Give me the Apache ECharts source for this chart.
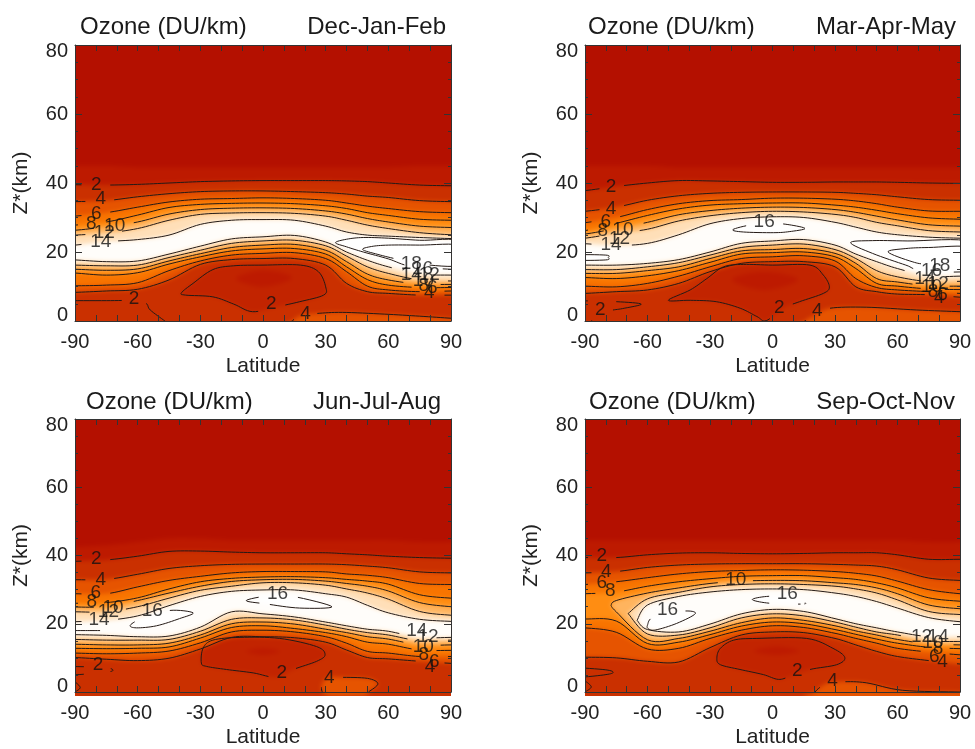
<!DOCTYPE html>
<html><head><meta charset="utf-8">
<style>html,body{margin:0;padding:0;background:#fff}#c{width:975px;height:749px}</style>
<script src="https://cdn.jsdelivr.net/npm/echarts@6/dist/echarts.min.js"></script>
</head><body><div id="c"></div>
<script>
// ---- shared axes ----
const lats=[-90,-75,-60,-45,-30,-15,0,15,30,40,50,60,75,90];
const lensLevels=[4,6,8,10,12,14];
const latTicks=[-90,90,30], zTicks=[0,80,20];
const colourLevels=[0,0.5,1,1.5,2,3,4,6,8,10,12,14,16];
const colourValues=['#b41000','#b61200','#bd1a00','#c22400','#ca3000','#d84000','#e65400','#f87400','#ff8d12','#ffb45e','#ffdfb8','#fffdfa','#ffffff'];
const lineColour='#241a16';

// ---- Dec-Jan-Feb ----
const djfFade=[45,45,44.6,44.5,44.5,44.5,44.5,44.5,44.5,44.5,44.5,44.6,45,45];
const djfUp2=[39.5,39.4,39.6,40,40.4,40.6,40.7,40.7,40.7,40.6,40.4,40,39.4,39.2];
const djfUpper=[
[34.6,34.9,36,36.9,37.5,37.7,37.7,37.5,37.2,36.8,36.2,35.8,34.9,34.6],
[30.4,31.4,33,34.5,35.3,35.5,35.7,35.5,35,34.2,33.3,32.6,31.7,31.4],
[27.8,28.7,30.7,32.9,33.8,34.1,34.2,34,33.4,32.6,31.4,30.6,29.5,29.2],
[26.3,27.3,28.7,31,32.3,32.7,32.8,32.6,31.9,31,29.7,28.7,27.5,27.1],
[24.9,25.5,26.8,29.2,30.9,31.3,31.4,31.2,30.4,29.2,27.8,26.8,25.6,25],
[22,23,23.6,24.9,28,29.2,29.4,29.2,27.5,25.8,24.9,24.6,24.2,23.9]];
const djfLower=[
[8.3,8.7,9.2,11.9,16.4,17.8,18.1,18.1,16.2,10.9,8.5,8,7.5,7.5],
[10.2,10.4,11.1,14.6,17.4,19.1,19.6,19.8,18.1,14.3,10.1,9,8.5,8.7],
[13.9,13.3,14,16.5,18.6,20.3,20.9,21,19.4,15.7,12,10.4,9.7,9.7],
[15,14.7,15.1,17.4,19.5,21.3,22,22.2,20.5,17.2,13.6,11.9,10.7,10.6],
[16.2,16,16.2,18.4,20.5,22.5,23.2,23.4,21.8,18.8,15.7,13.8,11.9,11.6],
[17.7,17.2,17.4,19.4,21.7,23.8,24.4,24.8,22.9,20,17.6,15.7,13.6,13.3]];
const djfHole=[[-39,8.2],[-33.5,10.9],[-24,14.9],[-14,16],[0,16.2],[18,16.2],[26.5,14.3],[30,9.9],[29,7.5],[17.6,5.6],[6.5,4.1],[-5,2.7],[-14,4.9],[-24,7],[-37,7.5]];
const djfCore=[[-13,12.3],[0,14.7],[14,12.6],[0,9.9]];
const djfSurface=[[13,-2],[14,0],[18.5,1.7],[26,2.2],[38,2.5],[58,2],[75,1.4],[90,0.8],[96,0.6],[96,-3]];
const djfOpen2=[[-95,5.9],[-75,5.9],[-62,5.9],[-56,5.1],[-54,3.2],[-47,0],[-45,-1]];
const djfLoop16=[[34.7,22.7],[40,23.7],[48,24.2],[60,24],[75,23.4],[95,23],[95,15],[90,15],[71,15.8],[60,18],[48,20],[40,21.5]];
const djfLoop18=[[47.7,20.7],[52,21.6],[60,22],[75,22],[95,21.8],[95,16.2],[75,16.5],[65,17.8],[55,19.3]];
const djfLabels=[[-79.8,39.5,2],[-77.7,35.3,4],[-79.8,31.1,6],[-82.2,28.2,8],[-71,27.5,10],[-76,25.6,12],[-77.7,23.1,14],[-61.7,6.3,2],[4,5.1,2],[20.4,2.2,4],[71,16.7,18],[76.4,15.2,16],[71,13.3,14],[79.6,13.3,12],[76.8,11.6,10],[77,10.1,8],[81,9.7,6],[79.6,8.2,4]];

// ---- Mar-Apr-May ----
const mamFade=[45,45,45,44.5,44.5,44.5,44.5,44.5,44.5,44.5,44.5,44.5,44.5,44.5];
const mamUp2=[37.8,39,40,40.7,40.6,40.4,40.2,40.2,40.3,40.3,40.3,40.2,40,39.9];
const mamUpper=[
[31.8,33,35,36.3,37,37.3,37.4,37.4,37.3,37,36.6,36,35.2,35],
[28.5,30,32.3,34,34.9,35.2,35.6,35.6,35.3,34.8,34,33,31.9,31.8],
[26.2,28.3,30.6,32.5,33.6,34,34.2,34.2,33.6,33,32.1,31.1,29.9,29.5],
[25.2,26.8,28.6,30.8,32,32.7,33,32.9,32.3,31.5,30.4,29.3,27.9,27.5],
[24,25.4,26.6,29,30.5,31.4,31.8,31.6,30.9,30,28.6,27.6,26.2,25.8],
[22.4,21.9,22.5,25,28.2,29.7,30.2,30,28.6,27.2,25.8,25,24.3,24]];
const mamLower=[
[8,8.5,9,10.9,14.3,16.7,17.2,17.2,15.7,9.9,8.5,7.8,7.6,6.9],
[10.1,9.9,10.9,13,15.7,18.1,18.6,18.9,17.4,12.3,9.7,9,8.5,8],
[12.6,12.3,13.1,14.6,17,19.4,19.8,20,18.6,15.2,10.9,10.1,9.3,9.1],
[13.8,13.8,14.6,15.7,18.1,20.3,20.7,21,19.6,16.7,12.3,11.3,10.2,10.1],
[14.9,14.9,15.7,16.9,19.1,21.3,22,22.3,20.7,18.1,14.6,12.8,11.4,11.5],
[16.2,16.2,16.7,17.8,20,22.5,23.2,23.6,22,19.4,17.2,15.2,13,13]];
const mamHole=[[-50,6],[-39.5,9],[-31.5,12.3],[-23.5,15.7],[-14,16.4],[0,16.2],[18,16.2],[24.4,13.3],[27.3,9.9],[24.4,8],[13,5.6],[5,3.7],[-3,0.1],[-7.5,1.3],[-15.5,3.7],[-27,5.6],[-39.5,6]];
const mamCore=[[-19.5,12],[-4,14.3],[12.4,12],[-4,9]];
const mamSurface=[[15.6,-2],[15.6,0],[20.4,1.7],[27.6,3.7],[45,4],[69,3.2],[90,2.7],[96,2.6],[96,-3]];
const mamOpen2=[[-95,5.9],[-75,5.6],[-63,4.9],[-72,3.6],[-78,3],[-84,1.6],[-87,0],[-88,-1]];
const mamLoop16=[[37.5,22.7],[48,23.3],[65,23.2],[95,22.9],[95,14.8],[71,14.9],[64,16.2],[48,19.6]];
const mamLoop18=[[55.5,20],[64,21],[75,21.3],[95,21.3],[95,16],[75,16.4],[67,17.2]];
const mamMid16=[[-19,26.5],[-10,27.9],[0,28.3],[8,27.9],[15.6,26.8],[8,25.9],[0.4,25.6],[-14,25.8]];
const mamLeft16=[[-95,19.1],[-80,19.1],[-78.8,18.4],[-80,17.7],[-95,17.7]];
const mamLabels=[[-77.5,38.8,2],[-77.5,32.4,4],[-80,28.7,6],[-81.5,26.1,8],[-71.8,26.3,10],[-73.4,23.9,12],[-77.5,22,14],[-4,28.9,16],[-82.7,3.2,2],[3.3,3.7,2],[21.5,3,4],[80.3,15.9,18],[76.3,14.7,16],[73.1,12.3,14],[79.5,10.9,12],[76.3,9.9,10],[77,8.5,8],[81.6,7.5,6],[80,6.6,4]];

// ---- Jun-Jul-Aug ----
const jjaFade=[42.5,43,44,45,45,44.5,44.5,44.5,44.5,44.5,44.5,44.5,44,44];
const jjaUp2=[38.3,38.7,39.8,41.2,41.3,41,40.8,40.8,40.8,40.5,40.2,39.8,39.4,39.2];
const jjaUpper=[
[32.9,33,34.5,36.2,37,37.4,37.5,37.5,37.5,37.3,36.9,36.4,35.2,34.9],
[28.8,28.8,30.8,32.7,33.9,34.9,35.3,35.3,35.2,34.6,34.2,33.5,31.8,31.5],
[26,26.2,27.6,30.2,32.3,33.3,33.7,33.8,33.5,33,32.5,31.6,28.5,27.5],
[24.9,25,26.8,29,31,32.4,32.9,33,32.5,31.8,31,29.6,26.2,25],
[23.5,23.5,25,27.5,29.8,31,32,32,31.3,30.2,29,27.2,23.6,22.5],
[20.6,21,22.3,25.3,28,29.5,29.9,29.9,28.8,27.8,25.4,23.2,21.3,20.7]];
const jjaLower=[
[10.1,9.6,9.2,9.9,12.6,16,16.2,15.9,14.6,12.3,10.1,9.7,9,8.4],
[11.4,11.2,11.4,12,14.4,17.6,18.1,17.6,16.2,14.3,11.9,11.4,10.4,10.4],
[12.8,12.7,12.8,13.2,15.8,18.9,19.4,18.6,17.4,16.2,14.6,14,12.3,12.2],
[14,13.8,13.8,14.3,16.7,20,20.5,19.9,18.4,17.4,16.2,15.5,13.8,13.8],
[15.4,15.2,15.2,15.4,17.8,21.3,21.7,21.1,19.6,18.4,17.4,16.7,15,15.2],
[16.8,16.6,16.2,16.4,19,23.5,22.9,22,20.5,19.4,18.4,17.8,16,16]];
const jjaHole=[[-29.5,8.5],[-28.7,12.8],[-24,15.2],[-11,16],[8,15.7],[25.7,13.3],[29.7,10.9],[25.7,9],[14.5,6.6],[6.5,4.3],[-4.7,5.6],[-17.5,6.6],[-27,7.5]];
const jjaCore=[[-8,11.9],[0,12.8],[8,11.9],[0,10.9]];
const jjaSurface=[[31,-1],[28,1.7],[31,4.2],[37,4.3],[50,4],[55,2.4],[50.5,0],[48,-1]];
const jjaOpen2=[[-95,7.5],[-76,7.2],[-72,6.2],[-80,5.5],[-95,4.8]];
const jjaCorner=[[-90,3],[-87.5,1.3],[-90,0]];
const jjaMid16=[[-8,26.8],[3,28.2],[14.5,28],[33,25],[17.5,24.6],[1.6,25.8]];
const jjaLeft16=[[-63.5,19.6],[-57.4,21.7],[-44.6,23.9],[-33.5,23.2],[-40,21.5],[-51,19.4],[-60.6,18.8]];
const jjaLine16=[[-95,18],[-85,18],[-78,18]];
const jjaLabels=[[-79.8,39,2],[-77.7,33,4],[-80,29.2,6],[-82,26.3,8],[-71.8,24.7,10],[-74,23.4,12],[-78.5,21.3,14],[-53,23.7,16],[7,28.7,16],[-79,8,2],[9,5.6,2],[31.7,4.3,4],[73.6,17.8,14],[79,16.2,12],[76.7,13.3,10],[77,10.9,8],[82,9,6],[80,7.5,4]];

// ---- Sep-Oct-Nov ----
const sonFade=[44.5,44.5,44.5,44.5,44.5,44.5,44.5,44.5,44.5,44.5,44.5,44.5,44,44];
const sonUp2=[39.4,39.4,40.2,40.7,40.8,40.6,40.5,40.6,40.8,40.8,40.8,40.2,38.9,38.9];
const sonUpper=[
[34.9,35.3,36.5,37.2,37.5,37.6,37.6,37.6,37.4,37.2,36.9,35.8,33.4,32.7],
[31.5,32.3,33.5,34.6,35.3,35.6,35.8,35.7,35.3,34.8,34,32.5,30,28.8],
[28.8,29.3,31,32.3,33.2,33.9,34.1,34.1,33.5,33,32,30.5,27.6,26.6],
[null,26.8,29,30.5,31.8,32.5,32.7,32.6,32,31.5,30.5,28.8,25.5,24.4],
[null,null,27.3,29.2,30.8,31.5,31.7,31.5,31,30.2,29,27,23.6,22.7],
[null,null,25.5,28,29.3,30,30.2,30,29,28,26.5,24.6,21.8,20.6]];
const sonLower=[
[10.2,10,9,8.8,13,16.7,17.6,17.4,15.7,13.8,11.9,10.4,9.2,8.2],
[18.8,17.5,12.6,12.8,15.7,18.1,19.4,18.9,17.2,15.7,14.3,12.8,11.7,10.9],
[21.4,20.8,14.2,14.6,16.8,19.3,20.5,20,18.3,16.9,15.5,14.3,13.1,12.7],
[null,23.5,15.3,15.7,17.8,20.3,21.7,21,19.4,17.9,16.7,15.4,14.1,13.8],
[null,null,17,16.7,18.8,21.7,22.9,22.3,20.5,19,17.6,16.7,15,14.8],
[null,null,18.3,17.6,19.9,22.9,24.2,23.6,21.5,20,18.8,17.6,16.2,16.2]];
const sonTips={10:[-77.5,25.4],12:[-69.3,23],14:[-65,21]};
const sonHole=[[-26.7,9.9],[-25,12.8],[-18.6,15.2],[-7.5,15.7],[16.4,15.7],[29,12.8],[34.7,10.1],[30.8,8],[18,6.6],[8.5,4.6],[2.8,3.7],[-4.4,5.1],[-15.6,6.6],[-25,8]];
const sonCore=[[-9,12],[2,13.3],[13,12],[2,10.9]];
const sonSurface=[[20.4,-2],[20.4,0],[26,2.5],[33.8,3],[45,2.7],[62.5,0.5],[90,0],[96,0],[96,-3]];
const sonOpen2=[[-95,7.2],[-80,6.5],[-76.5,5.7],[-81,5],[-95,4.1]];
const sonCorner=[[-90,3.3],[-87,1.5],[-90,0]];
const sonMid16=[[-9.7,27.1],[-2.8,28],[8,28],[16,26],[8.5,25.8],[-2.8,26.1]];
const sonLeft16=[[-60,19.6],[-57,22],[-43,23.7],[-37,23],[-46,20.1],[-56,18.2],[-59.5,18.5]];
const sonLabels=[[-81.9,39.8,2],[-79.8,35.3,4],[-81.9,32.1,6],[-77.9,29.7,8],[-17.6,32.9,10],[-50.4,24.2,16],[7.1,28.7,16],[11.9,6.1,2],[28.8,3.2,4],[71.5,16.2,12],[79.5,16.2,14],[77,14.3,10],[79.5,12.8,8],[77.6,10.4,6],[81.6,8.8,4]];

// ---- panels ----
const ozoneTitle='Ozone (DU/km)';
const seasons=['Dec-Jan-Feb','Mar-Apr-May','Jun-Jul-Aug','Sep-Oct-Nov'];
const layout=[
 {l:75,t:45,w:376,h:276,tl:80,tr:446,ty:14},
 {l:585,t:45,w:375,h:276,tl:588,tr:956,ty:14},
 {l:75,t:419,w:376,h:277,tl:86,tr:441,ty:389},
 {l:585,t:419,w:375,h:277,tl:589,tr:955,ty:389}];

function branch(values,tip){
  const out=[]; if(tip) out.push(tip);
  values.forEach((v,i)=>{ if(v!==null) out.push([lats[i],v]); });
  if(values[0]!==null) out.unshift([-96,values[0]]);
  out.push([96,values[values.length-1]]);
  return out;
}
function buildShapes(fade,up2,upper,lower,extras,tips){
  const s=[];
  s.push({level:0,fill:true,line:false,branches:[[[-100,88],[100,88]],[[-100,-8],[100,-8]]]});
  s.push({level:1,fill:true,line:false,branches:[branch(fade),[[-100,-8],[100,-8]]]});
  s.push({level:2,fill:true,line:true,branches:[branch(up2),[[-100,-8],[100,-8]]]});
  s.push({level:1.5,fill:true,line:true,labelLevel:2,closed:true,branches:[extras.hole]});
  s.push({level:1,fill:true,line:false,closed:true,branches:[extras.core]});
  s.push({level:4,fill:true,line:true,closed:true,branches:[extras.surface]});
  lensLevels.forEach((lv,i)=>{
    const tip=tips&&tips[lv];
    s.push({level:lv,fill:true,line:true,branches:[branch(upper[i],tip),branch(lower[i],tip)]});
  });
  (extras.open||[]).forEach(o=>s.push({level:o.level,fill:false,line:true,branches:[o.pts]}));
  (extras.loops||[]).forEach(o=>s.push({level:o.level,fill:true,line:true,closed:true,branches:[o.pts]}));
  return s;
}
const panelShapes=[
 buildShapes(djfFade,djfUp2,djfUpper,djfLower,{hole:djfHole,core:djfCore,surface:djfSurface,
   open:[{level:2,pts:djfOpen2}],loops:[{level:16,pts:djfLoop16},{level:18,pts:djfLoop18}]}),
 buildShapes(mamFade,mamUp2,mamUpper,mamLower,{hole:mamHole,core:mamCore,surface:mamSurface,
   open:[{level:2,pts:mamOpen2}],loops:[{level:16,pts:mamLoop16},{level:18,pts:mamLoop18},{level:16,pts:mamMid16},{level:16,pts:mamLeft16}]}),
 buildShapes(jjaFade,jjaUp2,jjaUpper,jjaLower,{hole:jjaHole,core:jjaCore,surface:jjaSurface,
   open:[{level:2,pts:jjaOpen2},{level:2,pts:jjaCorner},{level:16,pts:jjaLine16}],loops:[{level:16,pts:jjaMid16},{level:16,pts:jjaLeft16}]}),
 buildShapes(sonFade,sonUp2,sonUpper,sonLower,{hole:sonHole,core:sonCore,surface:sonSurface,
   open:[{level:2,pts:sonOpen2},{level:2,pts:sonCorner}],loops:[{level:16,pts:sonMid16},{level:16,pts:sonLeft16}]},sonTips)];
const panelLabels=[djfLabels,mamLabels,jjaLabels,sonLabels];

function hex(c){return [1,3,5].map(i=>parseInt(c.substr(i,2),16));}
function colourOf(v){
  for(let i=1;i<colourLevels.length;i++){
    if(v<=colourLevels[i]){
      const a=colourLevels[i-1],b=colourLevels[i],t=(v-a)/(b-a);
      const p=hex(colourValues[i-1]),q=hex(colourValues[i]);
      return 'rgb('+p.map((x,k)=>Math.round(x+(q[k]-x)*t)).join(',')+')';
    }
  }
  return colourValues[colourValues.length-1];
}
// Catmull-Rom through pixel positions, used only to draw a curve through the read nodes
function curve(p,closed){
  const n=p.length,out=[];
  if(n<3) return p.slice();
  const at=i=>closed?p[(i+n)%n]:p[Math.max(0,Math.min(n-1,i))];
  const segs=closed?n:n-1;
  for(let i=0;i<segs;i++){
    const a=at(i-1),b=at(i),c=at(i+1),d=at(i+2);
    for(let k=0;k<8;k++){
      const t=k/8,t2=t*t,t3=t2*t;
      out.push([0,1].map(j=>0.5*(2*b[j]+(c[j]-a[j])*t+(2*a[j]-5*b[j]+4*c[j]-d[j])*t2+(3*b[j]-a[j]-3*c[j]+d[j])*t3)));
    }
  }
  out.push(closed?out[0]:p[n-1]);
  return out;
}
function fillItem(pi){
  return function(params,api){
    const s=panelShapes[pi][api.value(2)];
    if(!s.fill) return null;
    const bs=s.branches.map(b=>curve(b.map(q=>api.coord(q)),s.closed));
    const poly=bs.length>1?bs[0].concat(bs[1].slice().reverse()):bs[0];
    return {type:'polygon',shape:{points:poly},style:{fill:colourOf(s.level),stroke:null}};
  };
}
function lineItem(pi){
  return function(params,api){
    const s=panelShapes[pi][api.value(2)];
    if(!s.line) return null;
    const lv=s.labelLevel||s.level;
    const boxes=panelLabels[pi].filter(l=>l[2]===lv).map(l=>{
      const c=api.coord([l[0],l[1]]); return {x:c[0],y:c[1],w:String(l[2]).length*5.5+6};});
    const children=[];
    s.branches.forEach(b=>{
      const pts=curve(b.map(q=>api.coord(q)),s.closed);
      let run=[];
      const flush=()=>{ if(run.length>1) children.push({type:'polyline',shape:{points:run},style:{fill:null,stroke:lineColour,lineWidth:1}}); run=[]; };
      pts.forEach(q=>{
        if(boxes.some(o=>Math.abs(q[0]-o.x)<o.w&&Math.abs(q[1]-o.y)<10)) flush(); else run.push(q);
      });
      flush();
    });
    return {type:'group',children};
  };
}

const grid=[],xAxis=[],yAxis=[],series=[],title=[];
const frame={show:true,onZero:false,lineStyle:{color:'#333',width:1}};
const font='"Liberation Sans",Arial,sans-serif';
layout.forEach((g,i)=>{
  grid.push({left:g.l,top:g.t,width:g.w,height:g.h,containLabel:false});
  const xBase={type:'value',gridIndex:i,min:latTicks[0],max:latTicks[1],interval:latTicks[2],zlevel:1,z:10,splitLine:{show:false},axisLine:frame,
    axisTick:{inside:true,length:6,lineStyle:{color:'#333'}},minorTick:{show:true,splitNumber:3,length:6,lineStyle:{color:'#333'}}};
  const yBase={type:'value',gridIndex:i,min:zTicks[0],max:zTicks[1],interval:zTicks[2],zlevel:1,z:10,splitLine:{show:false},axisLine:frame,
    axisTick:{inside:true,length:7,lineStyle:{color:'#333'}},minorTick:{show:true,splitNumber:4,length:3,lineStyle:{color:'#333'}}};
  xAxis.push(Object.assign({},xBase,{position:'bottom',name:'Latitude',nameLocation:'middle',nameGap:35,
    nameTextStyle:{fontSize:21,color:'#222',fontFamily:font},axisLabel:{fontSize:20,color:'#222',margin:11,fontFamily:font,showMinLabel:true,showMaxLabel:true}}));
  xAxis.push(Object.assign({},xBase,{position:'top',axisLabel:{show:false}}));
  yAxis.push(Object.assign({},yBase,{position:'left',name:'Z*(km)',nameLocation:'middle',nameGap:43,
    nameTextStyle:{fontSize:21,color:'#222',fontFamily:font},axisLabel:{fontSize:20,lineHeight:12,color:'#222',margin:7,fontFamily:font,verticalAlignMinLabel:'bottom',verticalAlignMaxLabel:'top'}}));
  yAxis.push(Object.assign({},yBase,{position:'right',axisLabel:{show:false}}));
  const data=panelShapes[i].map((s,k)=>[s.branches[0][0][0],s.branches[0][0][1],k]);
  series.push({type:'custom',name:seasons[i]+' fill',coordinateSystem:'cartesian2d',xAxisIndex:i*2,yAxisIndex:i*2,zlevel:0,clip:false,silent:true,animation:false,renderItem:fillItem(i),data});
  series.push({type:'custom',name:seasons[i]+' contours',coordinateSystem:'cartesian2d',xAxisIndex:i*2,yAxisIndex:i*2,zlevel:1,z:3,clip:true,silent:true,animation:false,renderItem:lineItem(i),data});
  series.push({type:'scatter',name:seasons[i]+' labels',xAxisIndex:i*2,yAxisIndex:i*2,zlevel:1,z:5,symbolSize:1,silent:true,itemStyle:{color:'transparent'},
    label:{show:true,position:'inside',fontSize:19,color:'#111',fontFamily:font,formatter:p=>String(p.value[2])},data:panelLabels[i]});
  title.push({text:ozoneTitle,left:g.tl,top:g.ty+1,zlevel:1,padding:0,textStyle:{fontSize:24,fontWeight:'normal',color:'#1a1a1a',fontFamily:font}});
  title.push({text:seasons[i],right:975-g.tr,top:g.ty+1,zlevel:1,padding:0,textStyle:{fontSize:24,fontWeight:'normal',color:'#1a1a1a',fontFamily:font}});
});

const chart=echarts.init(document.getElementById('c'),null,{renderer:'canvas',width:975,height:749});
chart.setOption({animation:false,tooltip:{show:false},legend:{show:false},title,grid,xAxis,yAxis,series});
// soften the filled bands on their own layer and trim the layer to the four plot frames
function softenFill(){
  const layer=chart.getZr().painter.getLayer(0);
  if(!layer||!layer.dom) return;
  layer.dom.style.filter='blur(2.2px)';
  layer.dom.style.clipPath="path('"+layout.map(g=>'M'+g.l+' '+g.t+'H'+(g.l+g.w)+'V'+(g.t+g.h)+'H'+g.l+'Z').join(' ')+"')";
}
softenFill();
chart.on('finished',softenFill);
</script></body></html>
